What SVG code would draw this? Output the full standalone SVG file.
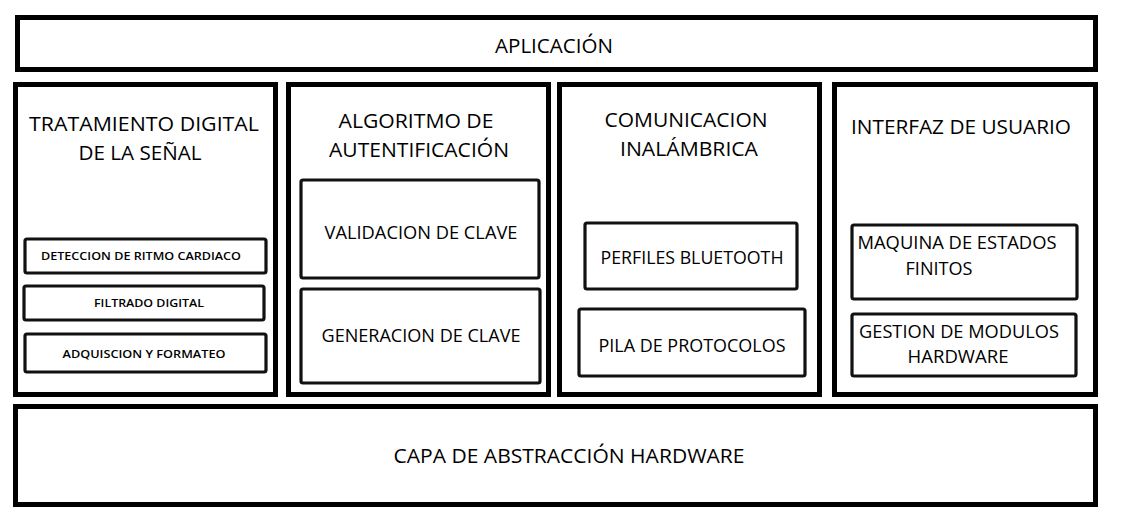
<svg xmlns="http://www.w3.org/2000/svg" width="1122" height="530" viewBox="0 0 1122 530">
<style>
.layer{fill:#fff;stroke:#000;stroke-width:5}
.sub{fill:#fff;stroke:#111;stroke-width:3.2;stroke-linejoin:round}
text{font-family:"Open Sans","Noto Sans","Liberation Sans",sans-serif;fill:#000;text-anchor:middle}
.h{font-size:20.5px}
.m{font-size:17.5px}
.s{font-size:11.5px;font-weight:600}
</style>
<rect width="1122" height="530" fill="#fff"/>
<g id="aplicacion">
<rect class="layer" x="17.5" y="17.5" width="1078" height="52"/>
<text class="h" x="554" y="53" textLength="118" lengthAdjust="spacingAndGlyphs">APLICACIÓN</text>
</g>
<g id="tratamiento">
<rect class="layer" x="15.5" y="84.5" width="260" height="310"/>
<text class="h" x="144" y="131" textLength="230" lengthAdjust="spacingAndGlyphs">TRATAMIENTO DIGITAL</text>
<text class="h" x="140" y="160" textLength="123" lengthAdjust="spacingAndGlyphs">DE LA SEÑAL</text>
</g>
<g id="deteccion">
<rect class="sub" x="25" y="239" width="241" height="34" rx="2"/>
<text class="s" x="141" y="260" textLength="200" lengthAdjust="spacingAndGlyphs">DETECCION DE RITMO CARDIACO</text>
</g>
<g id="filtrado">
<rect class="sub" x="24" y="286" width="240" height="34" rx="2"/>
<text class="s" x="149" y="307" textLength="110" lengthAdjust="spacingAndGlyphs">FILTRADO DIGITAL</text>
</g>
<g id="adquisicion">
<rect class="sub" x="25" y="334" width="241" height="38" rx="2"/>
<text class="s" x="144" y="358" textLength="163" lengthAdjust="spacingAndGlyphs">ADQUISCION Y FORMATEO</text>
</g>
<g id="algoritmo">
<rect class="layer" x="288.5" y="84.5" width="260" height="310"/>
<text class="h" x="416" y="128" textLength="155" lengthAdjust="spacingAndGlyphs">ALGORITMO DE</text>
<text class="h" x="419" y="157" textLength="180" lengthAdjust="spacingAndGlyphs">AUTENTIFICACIÓN</text>
</g>
<g id="validacion">
<rect class="sub" x="301" y="180" width="238" height="98" rx="2"/>
<text class="m" x="421" y="239" textLength="193" lengthAdjust="spacingAndGlyphs">VALIDACION DE CLAVE</text>
</g>
<g id="generacion">
<rect class="sub" x="301" y="289" width="239" height="94" rx="2"/>
<text class="m" x="421" y="342" textLength="199" lengthAdjust="spacingAndGlyphs">GENERACION DE CLAVE</text>
</g>
<g id="comunicacion">
<rect class="layer" x="559.5" y="84.5" width="260" height="310"/>
<text class="h" x="686" y="127" textLength="163" lengthAdjust="spacingAndGlyphs">COMUNICACION</text>
<text class="h" x="689" y="156" textLength="138" lengthAdjust="spacingAndGlyphs">INALÁMBRICA</text>
</g>
<g id="perfiles">
<rect class="sub" x="585" y="223" width="212" height="66" rx="2"/>
<text class="m" x="692" y="264" textLength="183" lengthAdjust="spacingAndGlyphs">PERFILES BLUETOOTH</text>
</g>
<g id="pila">
<rect class="sub" x="579" y="309" width="226" height="67" rx="2"/>
<text class="m" x="692" y="352" textLength="187" lengthAdjust="spacingAndGlyphs">PILA DE PROTOCOLOS</text>
</g>
<g id="interfaz">
<rect class="layer" x="834.5" y="84.5" width="261" height="310"/>
<text class="h" x="961" y="134" textLength="220" lengthAdjust="spacingAndGlyphs">INTERFAZ DE USUARIO</text>
</g>
<g id="maquina">
<rect class="sub" x="852" y="225" width="225" height="74" rx="2"/>
<text class="m" x="957" y="249" textLength="199" lengthAdjust="spacingAndGlyphs">MAQUINA DE ESTADOS</text>
<text class="m" x="939" y="275" textLength="67" lengthAdjust="spacingAndGlyphs">FINITOS</text>
</g>
<g id="gestion">
<rect class="sub" x="852" y="314" width="224" height="62" rx="2"/>
<text class="m" x="959" y="338" textLength="200" lengthAdjust="spacingAndGlyphs">GESTION DE MODULOS</text>
<text class="m" x="958" y="363" textLength="101" lengthAdjust="spacingAndGlyphs">HARDWARE</text>
</g>
<g id="capa-hardware">
<rect class="layer" x="15.5" y="406.5" width="1080" height="98"/>
<text class="h" x="569" y="463" textLength="351" lengthAdjust="spacingAndGlyphs">CAPA DE ABSTRACCIÓN HARDWARE</text>
</g>
<g id="connectors"></g>
</svg>
